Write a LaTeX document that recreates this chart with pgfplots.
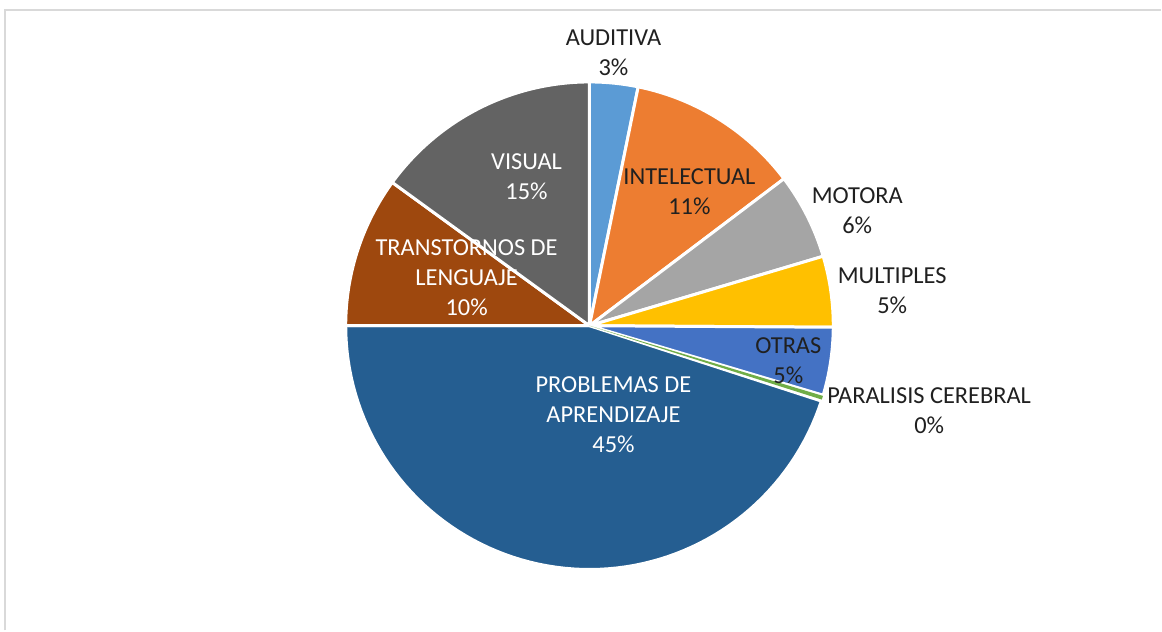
\documentclass[border=0pt]{standalone}
\usepackage{pgfplots}
\pgfplotsset{compat=1.18}
\usepackage{fontspec}
\setmainfont{Carlito}

\definecolor{aud}{HTML}{5B9BD5}
\definecolor{int}{HTML}{ED7D31}
\definecolor{mot}{HTML}{A5A5A5}
\definecolor{mul}{HTML}{FFC000}
\definecolor{otr}{HTML}{4472C4}
\definecolor{par}{HTML}{70AD47}
\definecolor{pro}{HTML}{255E91}
\definecolor{len}{HTML}{9E480E}
\definecolor{vis}{HTML}{636363}
\definecolor{txt}{HTML}{202020}
\definecolor{frame}{HTML}{D9D9D9}

% one wedge: start %, end %, colour (clockwise from 12 o'clock)
\newcommand{\slice}[4][white]{%
  \addplot[fill=#4, draw=#1, line width=1.5pt, line join=round,
    domain=#2*3.6:#3*3.6, samples=80]
    ({590+244*sin(x)},{305+244*cos(x)}) -- (axis cs:590,305) -- cycle;}

\begin{document}
\begin{tikzpicture}
\begin{axis}[
    width=581pt, height=315.5pt,
    scale only axis,
    xmin=0, xmax=1162,
    ymin=0, ymax=631,
    hide axis,
    clip=false
]
\path (axis cs:0,0) rectangle (axis cs:1162,631);
\draw[frame, line width=1pt] (axis cs:5,0) -- (axis cs:5,621) -- (axis cs:1162,621);

\slice{0}{3.2}{aud}
\slice{3.2}{14.7}{int}
\slice{14.7}{20.4}{mot}
\slice{20.4}{25.1}{mul}
\slice{25.1}{29.6}{otr}
\slice{30.0}{75.0}{pro}
\slice{75.0}{85.0}{len}
\slice{85.0}{100}{vis}
\addplot[fill=par, draw=none, domain=29.65*3.6:29.9*3.6, samples=10]
    ({590+244*sin(x)},{305+244*cos(x)}) -- (axis cs:590,305) -- cycle;

\begin{scope}[every node/.style={font=\fontsize{12.2}{15}\selectfont, align=center, text=txt}]
\node at (axis cs:614,578) {AUDITIVA\\3\%};
\node at (axis cs:690,439) {INTELECTUAL\\11\%};
\node at (axis cs:858,420) {MOTORA\\6\%};
\node at (axis cs:893,340) {MULTIPLES\\5\%};
\node at (axis cs:789,270) {OTRAS\\5\%};
\node at (axis cs:930,220) {PARALISIS CEREBRAL\\0\%};
\node[text=white] at (axis cs:614,216) {PROBLEMAS DE\\APRENDIZAJE\\45\%};
\node[text=white] at (axis cs:467,353) {TRANSTORNOS DE\\LENGUAJE\\10\%};
\node[text=white] at (axis cs:527,454) {VISUAL\\15\%};
\end{scope}
\end{axis}
\end{tikzpicture}
\end{document}
